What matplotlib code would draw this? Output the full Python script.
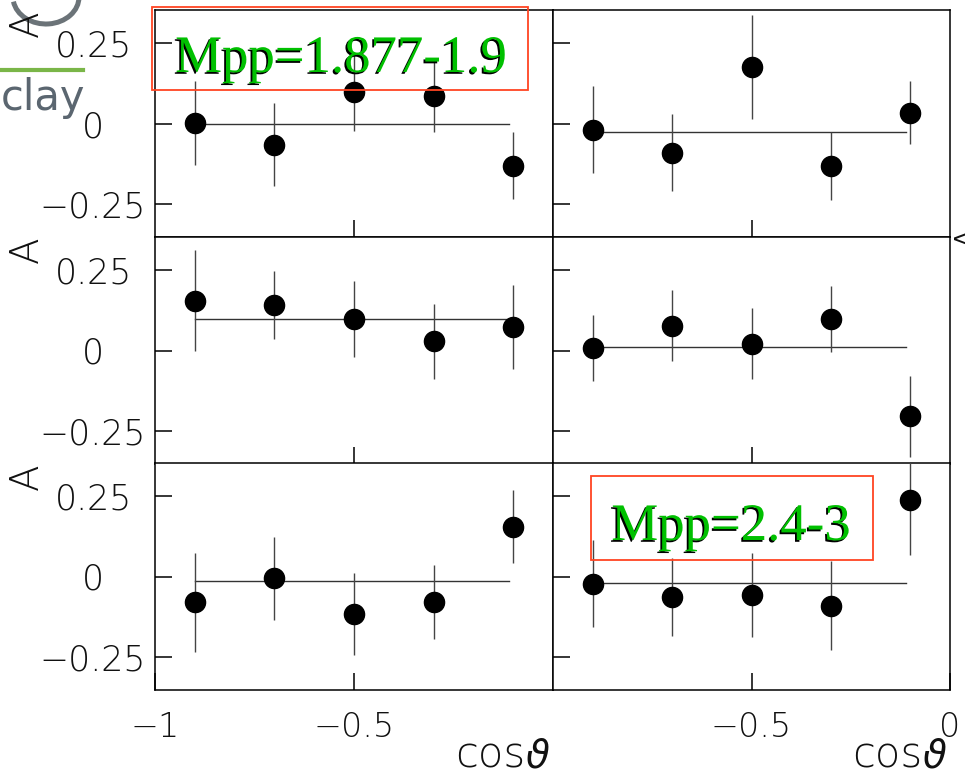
import matplotlib
matplotlib.use("Agg")
import matplotlib.pyplot as plt
import matplotlib.patheffects as pe
from matplotlib.patches import Rectangle, Arc
from matplotlib.lines import Line2D

# cos(theta) bin centres shared by all six panels
cos_bins = [-0.9, -0.7, -0.5, -0.3, -0.1]

# asymmetry per panel (row by row, left then right) and its errors
asym_tl = [0.002, -0.065, 0.097, 0.086, -0.130]
err_tl = [0.130, 0.129, 0.120, 0.112, 0.105]
asym_tr = [-0.019, -0.090, 0.175, -0.132, 0.033]
err_tr = [0.135, 0.120, 0.160, 0.106, 0.097]
asym_ml = [0.154, 0.141, 0.097, 0.028, 0.074]
err_ml = [0.157, 0.105, 0.117, 0.115, 0.130]
asym_mr = [0.009, 0.077, 0.021, 0.098, -0.204]
err_mr = [0.102, 0.109, 0.109, 0.102, 0.125]
asym_bl = [-0.080, -0.006, -0.117, -0.078, 0.154]
err_bl = [0.152, 0.129, 0.127, 0.115, 0.112]
asym_br = [-0.022, -0.064, -0.056, -0.090, 0.238]
err_br = [0.135, 0.120, 0.130, 0.137, 0.170]

# constant fit per panel
fit_const = [-0.003, -0.025, 0.098, 0.012, -0.014, -0.020]

mass_labels = ["Mpp=1.877-1.9", None, None, None, None, "Mpp=2.4-3"]

y_ticks = [-0.25, 0, 0.25]
y_ticklabels = ["\u22120.25", "0", "0.25"]

panels = [
    (asym_tl, err_tl), (asym_tr, err_tr),
    (asym_ml, err_ml), (asym_mr, err_mr),
    (asym_bl, err_bl), (asym_br, err_br),
]

plt.rcParams["mathtext.fontset"] = "dejavusans"

W, H = 965, 777
fig = plt.figure(figsize=(W / 100, H / 100), dpi=100)


def fx(px):
    return px / W


def fy(py):
    return 1 - py / H


col_left = [155, 553]
col_w = [398, 397]
row_top = [10, 237, 463]
row_h = 227

lab_kw = dict(family="DejaVu Sans", weight="light", color="#111111")

for i, (asym, err) in enumerate(panels):
    r, c = divmod(i, 2)
    ax = fig.add_axes([fx(col_left[c]), fy(row_top[r] + row_h),
                       col_w[c] / W, row_h / H])
    ax.errorbar(cos_bins, asym, yerr=err, fmt="o", color="black", ms=14.5,
                ecolor="#444444", elinewidth=1.0, capsize=0, zorder=3)
    ax.plot([cos_bins[0], cos_bins[-1] - 0.01], [fit_const[i]] * 2,
            color="#333333", lw=1.0, zorder=2)
    ax.set_xlim(-1, 0)
    ax.set_ylim(-0.351, 0.351)

    ax.set_yticks(y_ticks)
    if c == 0:
        ax.set_yticklabels(y_ticklabels, ha="center", fontsize=25, **lab_kw)
    else:
        ax.set_yticklabels([])

    if r == 2:
        if c == 0:
            ax.set_xticks([-1, -0.5])
            ax.set_xticklabels(["\u22121", "\u22120.5"], fontsize=24, **lab_kw)
        else:
            ax.set_xticks([-0.5, 0])
            ax.set_xticklabels(["\u22120.5", "0"], fontsize=24, **lab_kw)
    else:
        ax.set_xticks([-0.5])
        ax.set_xticklabels([])

    ax.tick_params(axis="y", direction="in", length=12.2, width=1.1,
                   left=True, right=False, pad=44.6)
    ax.tick_params(axis="x", direction="in", length=12.2, width=1.1,
                   bottom=True, top=False, pad=15)
    for sp in ax.spines.values():
        sp.set_linewidth(1.1)
        sp.set_color("black")

    if r == 2:
        # x label: "cos" in the light face, theta via mathtext
        right = col_left[c] + col_w[c] - 3
        fig.text(fx(right), fy(767), r"$\vartheta$", ha="right", va="baseline",
                 fontsize=28, color="#111111")
        fig.text(fx(right - 25), fy(767), "cos", ha="right", va="baseline",
                 fontsize=30, **lab_kw)

# y axis "A" labels
for yy in [24, 250, 477]:
    fig.text(fx(27), fy(yy), "A", rotation=90, ha="center", va="center",
             fontsize=28, **lab_kw)
fig.text(fx(953), fy(237), "A", rotation=90, ha="left", va="center",
         fontsize=28, **lab_kw)

# mass-range boxes
shadow = [pe.SimplePatchShadow(offset=(-1.3, -1.3), shadow_rgbFace="black", alpha=1.0),
          pe.Normal()]
box_geom = {0: (152, 7, 376, 83, 341, 72), 5: (591, 476, 282, 84, 731, 540)}
for i, lab in enumerate(mass_labels):
    if lab is None:
        continue
    bx, by, bw, bh, tx, ty = box_geom[i]
    fig.add_artist(Rectangle((fx(bx), fy(by + bh)), bw / W, bh / H,
                             transform=fig.transFigure, fill=False,
                             ec="#ff4422", lw=1.3, zorder=5))
    fig.text(fx(tx), fy(ty), lab, ha="center", va="baseline",
             family="Liberation Serif", fontsize=38, color="#00c000",
             path_effects=shadow, zorder=6)

# fragment of a logo in the top-left corner
fig.add_artist(Arc((fx(46), fy(-3)), 66 / W, 54 / H, theta1=190, theta2=360,
                   transform=fig.transFigure, color="#6b7378", lw=3.6, zorder=0.5))
fig.add_artist(Line2D([0, fx(83)], [fy(70), fy(70)], transform=fig.transFigure,
                      color="#7ab648", lw=3, zorder=0.5))
fig.text(fx(1), fy(110), "clay", ha="left", va="baseline",
         family="DejaVu Sans", fontsize=30, color="#5b6670", zorder=0.5)

fig.savefig("out.png", dpi=100)
